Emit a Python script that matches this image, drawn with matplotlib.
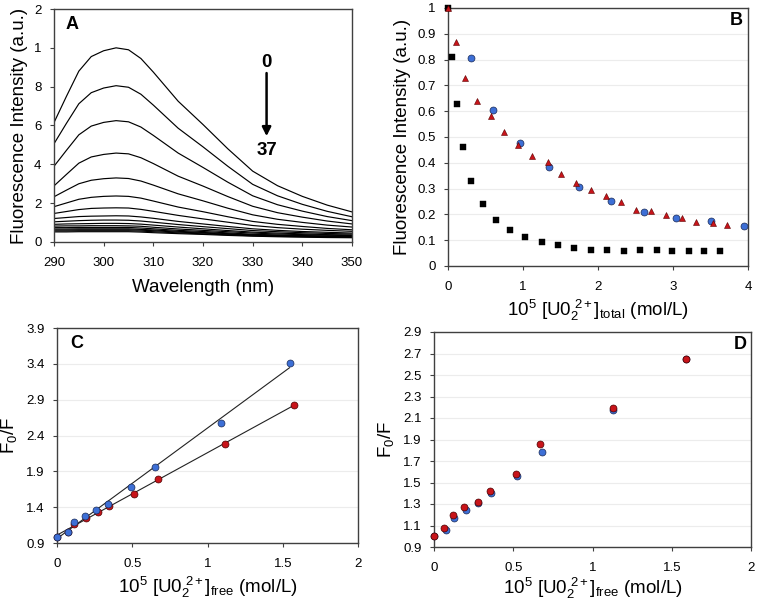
import numpy as np
import matplotlib
matplotlib.use("Agg")
import matplotlib.pyplot as plt

plt.rcParams['font.family'] = ['Liberation Sans', 'DejaVu Sans']
plt.rcParams['mathtext.fontset'] = 'custom'
plt.rcParams['mathtext.rm'] = 'Liberation Sans'
plt.rcParams['mathtext.it'] = 'Liberation Sans'

# ---------------- Panel A data ----------------
wavelengths = [290, 292.5, 295, 297.5, 300, 302.5, 305, 307.5, 310, 315, 320, 325, 330, 335, 340, 345, 350]
spectra = [
    [6.15, 7.50, 8.80, 9.55, 9.85, 10.0, 9.90, 9.45, 8.75, 7.25, 6.05, 4.80, 3.65, 2.90, 2.35, 1.90, 1.55],
    [5.06, 6.11, 7.12, 7.69, 7.93, 8.05, 7.97, 7.61, 7.05, 5.86, 4.90, 3.90, 2.97, 2.38, 1.94, 1.58, 1.30],
    [3.90, 4.72, 5.52, 5.97, 6.16, 6.25, 6.19, 5.92, 5.49, 4.58, 3.84, 3.08, 2.38, 1.92, 1.59, 1.31, 1.10],
    [2.89, 3.48, 4.06, 4.38, 4.51, 4.58, 4.54, 4.34, 4.04, 3.39, 2.88, 2.34, 1.84, 1.51, 1.28, 1.08, 0.93],
    [2.33, 2.67, 3.00, 3.18, 3.26, 3.30, 3.27, 3.14, 2.93, 2.48, 2.12, 1.74, 1.40, 1.17, 1.01, 0.87, 0.77],
    [1.82, 2.01, 2.20, 2.30, 2.35, 2.37, 2.35, 2.26, 2.11, 1.80, 1.56, 1.30, 1.06, 0.91, 0.80, 0.70, 0.63],
    [1.47, 1.57, 1.67, 1.73, 1.75, 1.76, 1.75, 1.68, 1.58, 1.37, 1.19, 1.02, 0.85, 0.74, 0.66, 0.60, 0.55],
    [1.21, 1.26, 1.31, 1.33, 1.34, 1.35, 1.34, 1.29, 1.22, 1.06, 0.93, 0.80, 0.68, 0.60, 0.54, 0.50, 0.46],
    [1.04, 1.07, 1.10, 1.12, 1.13, 1.13, 1.12, 1.08, 1.02, 0.90, 0.79, 0.69, 0.59, 0.53, 0.48, 0.44, 0.41],
    [0.91, 0.93, 0.94, 0.95, 0.96, 0.96, 0.95, 0.92, 0.87, 0.77, 0.68, 0.59, 0.51, 0.46, 0.42, 0.38, 0.36],
    [0.82, 0.83, 0.83, 0.84, 0.84, 0.84, 0.83, 0.81, 0.76, 0.67, 0.60, 0.53, 0.46, 0.41, 0.38, 0.35, 0.33],
    [0.74, 0.74, 0.75, 0.75, 0.75, 0.75, 0.75, 0.72, 0.68, 0.60, 0.54, 0.47, 0.40, 0.36, 0.33, 0.31, 0.29],
    [0.67, 0.67, 0.68, 0.68, 0.68, 0.68, 0.68, 0.65, 0.62, 0.55, 0.49, 0.43, 0.37, 0.34, 0.31, 0.29, 0.27],
    [0.62, 0.62, 0.63, 0.63, 0.63, 0.63, 0.63, 0.61, 0.58, 0.51, 0.46, 0.40, 0.35, 0.32, 0.30, 0.28, 0.26],
    [0.57, 0.57, 0.58, 0.58, 0.58, 0.58, 0.58, 0.56, 0.53, 0.47, 0.42, 0.37, 0.32, 0.29, 0.27, 0.25, 0.24],
    [0.52, 0.52, 0.53, 0.53, 0.53, 0.53, 0.53, 0.51, 0.48, 0.43, 0.39, 0.34, 0.30, 0.27, 0.25, 0.23, 0.22],
]
a_yticks = [0, 2, 4, 6, 8, 10, 12]
a_yticklabels = ['0', '2', '4', '6', '8', '1', '2']
a_xticks = [290, 300, 310, 320, 330, 340, 350]

# ---------------- Panel B data ----------------
b_sq_x = [0, 0.053, 0.12, 0.196, 0.30, 0.46, 0.64, 0.83, 1.03, 1.25, 1.47, 1.68, 1.90, 2.12, 2.34, 2.56, 2.78, 2.99, 3.21, 3.41, 3.62]
b_sq_y = [1.0, 0.81, 0.628, 0.46, 0.33, 0.24, 0.18, 0.141, 0.114, 0.093, 0.08, 0.07, 0.063, 0.062, 0.059, 0.063, 0.061, 0.057, 0.057, 0.059, 0.059]
b_tri_x = [0, 0.11, 0.22, 0.38, 0.57, 0.74, 0.93, 1.12, 1.33, 1.51, 1.71, 1.90, 2.11, 2.31, 2.50, 2.71, 2.91, 3.12, 3.31, 3.53, 3.72]
b_tri_y = [1.0, 0.867, 0.73, 0.638, 0.583, 0.518, 0.47, 0.425, 0.402, 0.357, 0.32, 0.293, 0.27, 0.248, 0.218, 0.212, 0.199, 0.185, 0.17, 0.168, 0.158]
b_cir_x = [0.30, 0.60, 0.96, 1.35, 1.75, 2.17, 2.61, 3.04, 3.50, 3.94]
b_cir_y = [0.806, 0.605, 0.478, 0.384, 0.306, 0.253, 0.211, 0.187, 0.176, 0.156]

# ---------------- Panel C data ----------------
c_blue_x = [0, 0.07, 0.115, 0.185, 0.262, 0.34, 0.494, 0.65, 1.09, 1.545]
c_blue_y = [0.99, 1.054, 1.19, 1.28, 1.36, 1.44, 1.678, 1.96, 2.58, 3.41]
c_red_x = [0, 0.07, 0.115, 0.19, 0.27, 0.348, 0.51, 0.672, 1.116, 1.573]
c_red_y = [0.99, 1.05, 1.17, 1.253, 1.33, 1.416, 1.59, 1.80, 2.277, 2.82]

# ---------------- Panel D data ----------------
d_blue_x = [0, 0.074, 0.126, 0.202, 0.28, 0.357, 0.521, 0.683, 1.13, 1.59]
d_blue_y = [1.0, 1.06, 1.17, 1.245, 1.31, 1.40, 1.563, 1.784, 2.175, 2.645]
d_red_x = [0, 0.065, 0.118, 0.191, 0.28, 0.353, 0.517, 0.668, 1.13, 1.59]
d_red_y = [1.002, 1.08, 1.195, 1.272, 1.32, 1.421, 1.582, 1.861, 2.195, 2.652]

BLUE = '#3D6FD6'
RED = '#C8141A'
SPINE = '#404040'
TICKFS = 9.5
LABFS = 13.5

fig = plt.figure(figsize=(7.58, 6.04), dpi=100)


def style(ax, grid=True):
    for s in ax.spines.values():
        s.set_color(SPINE)
        s.set_linewidth(1.0)
    ax.tick_params(direction='out', length=3, width=0.8, colors=SPINE,
                   labelcolor='black', labelsize=TICKFS)
    ax.tick_params(axis='x', pad=8)
    ax.tick_params(axis='y', pad=6)
    if grid:
        ax.yaxis.grid(True, color='#ececec', linewidth=0.8)
        ax.set_axisbelow(True)


def pts(ax, x, y, marker, color, edge, size, ew=0.5):
    ax.plot(x, y, marker, color=color, markeredgecolor=edge, markeredgewidth=ew,
            markersize=size, linestyle='none', clip_on=False, zorder=3)

# Panel A
axA = fig.add_axes([54/758, 1-242/604, 298/758, 233/604])
for row in spectra:
    axA.plot(wavelengths, row, color='black', linewidth=0.85)
axA.set_xlim(290, 350)
axA.set_ylim(0, 12)
axA.set_xticks(a_xticks)
axA.set_yticks(a_yticks)
axA.set_yticklabels(a_yticklabels)
style(axA, grid=False)
axA.set_xlabel('Wavelength (nm)', fontsize=LABFS, labelpad=7)
axA.set_ylabel('Fluorescence Intensity (a.u.)', fontsize=LABFS, labelpad=4)
axA.text(293.6, 11.2, 'A', fontsize=13, fontweight='bold', ha='center', va='center')
axA.text(332.8, 9.25, '0', fontsize=13.5, fontweight='bold', ha='center', va='center')
axA.text(332.8, 4.72, '37', fontsize=13.5, fontweight='bold', ha='center', va='center')
axA.annotate('', xy=(332.8, 5.45), xytext=(332.8, 8.7),
             arrowprops=dict(arrowstyle='-|>', color='black', lw=1.8,
                             mutation_scale=13, shrinkA=0, shrinkB=0))

# Panel B
axB = fig.add_axes([448/758, 1-266/604, 300/758, 258/604])
pts(axB, b_sq_x, b_sq_y, 's', 'black', 'black', 4.5, 0.3)
pts(axB, b_cir_x, b_cir_y, 'o', BLUE, '#1a2a55', 5)
pts(axB, b_tri_x, b_tri_y, '^', RED, '#5a0000', 5, 0.4)
axB.set_xlim(0, 4)
axB.set_ylim(0, 1)
axB.set_xticks([0, 1, 2, 3, 4])
axB.set_yticks(np.arange(0, 1.01, 0.1))
axB.set_yticklabels(['0', '0.1', '0.2', '0.3', '0.4', '0.5', '0.6', '0.7', '0.8', '0.9', '1'])
style(axB)
axB.set_xlabel(r'$\mathregular{10^5\ [U0_2^{\ 2+}]_{total}\ (mol/L)}$', fontsize=LABFS, labelpad=3)
axB.set_ylabel('Fluorescence Intensity (a.u.)', fontsize=LABFS, labelpad=4)
axB.text(0.962, 0.953, 'B', transform=axB.transAxes, fontsize=13, fontweight='bold',
         ha='center', va='center')

# Panel C
axC = fig.add_axes([57/758, 1-543/604, 301/758, 215/604])
for xs, ys in ((c_blue_x, c_blue_y), (c_red_x, c_red_y)):
    k, b = np.polyfit(xs, ys, 1)
    xx = np.array([0, max(xs)])
    axC.plot(xx, k*xx + b, color='#222222', linewidth=0.8)
pts(axC, c_red_x, c_red_y, 'o', RED, '#4a0000', 5)
pts(axC, c_blue_x, c_blue_y, 'o', BLUE, '#1a2a55', 5)
axC.set_xlim(0, 2)
axC.set_ylim(0.9, 3.9)
axC.set_xticks([0, 0.5, 1, 1.5, 2])
axC.set_xticklabels(['0', '0.5', '1', '1.5', '2'])
axC.set_yticks([0.9, 1.4, 1.9, 2.4, 2.9, 3.4, 3.9])
style(axC)
axC.set_xlabel(r'$\mathregular{10^5\ [U0_2^{\ 2+}]_{free}\ (mol/L)}$', fontsize=LABFS, labelpad=3)
axC.set_ylabel(r'$\mathregular{F_0/F}$', fontsize=LABFS, labelpad=5)
axC.text(0.043, 0.929, 'C', transform=axC.transAxes, fontsize=13, fontweight='bold',
         ha='left', va='center')

# Panel D
axD = fig.add_axes([434/758, 1-547/604, 317/758, 215/604])
pts(axD, d_blue_x, d_blue_y, 'o', BLUE, '#1a2a55', 5)
pts(axD, d_red_x, d_red_y, 'o', RED, '#4a0000', 5)
axD.set_xlim(0, 2)
axD.set_ylim(0.9, 2.9)
axD.set_xticks([0, 0.5, 1, 1.5, 2])
axD.set_xticklabels(['0', '0.5', '1', '1.5', '2'])
axD.set_yticks(np.round(np.arange(0.9, 2.91, 0.2), 1))
style(axD)
axD.set_xlabel(r'$\mathregular{10^5\ [U0_2^{\ 2+}]_{free}\ (mol/L)}$', fontsize=LABFS, labelpad=1)
axD.set_ylabel(r'$\mathregular{F_0/F}$', fontsize=LABFS, labelpad=5)
axD.text(0.965, 0.94, 'D', transform=axD.transAxes, fontsize=13, fontweight='bold',
         ha='center', va='center')

fig.savefig('out.png', dpi=100)
